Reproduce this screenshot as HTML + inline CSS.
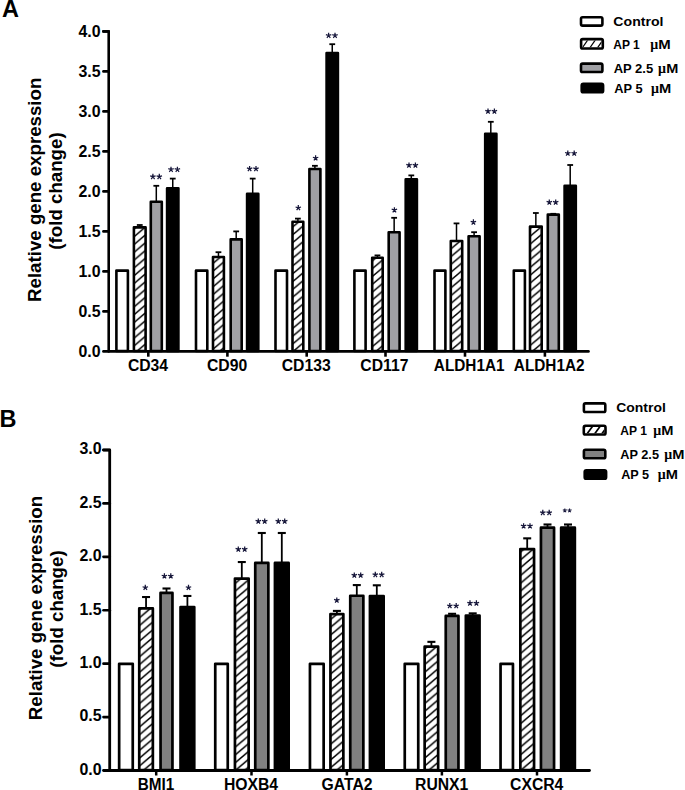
<!DOCTYPE html>
<html><head><meta charset="utf-8"><title>Figure</title>
<style>html,body{margin:0;padding:0;background:#fff}svg{display:block}</style></head><body>
<svg width="685" height="790" viewBox="0 0 685 790">
<defs>
<pattern id="hA" patternUnits="userSpaceOnUse" width="9.2" height="7.8" patternTransform="translate(134.9 228.2)"><rect width="9.2" height="7.8" fill="#fff"/><path d="M-4.6,11.7 L13.8,-3.9 M-4.6,19.5 L13.8,3.9 M-4.6,3.9 L13.8,-11.7" stroke="#000" stroke-width="1.45"/></pattern>
<pattern id="hB" patternUnits="userSpaceOnUse" width="9.2" height="7.8" patternTransform="translate(140.8 640.0)"><rect width="9.2" height="7.8" fill="#fff"/><path d="M-4.6,11.7 L13.8,-3.9 M-4.6,19.5 L13.8,3.9 M-4.6,3.9 L13.8,-11.7" stroke="#000" stroke-width="1.5"/></pattern>
</defs>
<rect width="685" height="790" fill="#fff"/>
<rect x="116.40" y="270.60" width="11.50" height="80.40" fill="#fff" stroke="#000" stroke-width="2.6" stroke-linejoin="round"/>
<line x1="139.75" y1="227.10" x2="139.75" y2="225.00" stroke="#000" stroke-width="1.5" stroke-linecap="butt"/>
<line x1="136.85" y1="225.00" x2="142.65" y2="225.00" stroke="#000" stroke-width="1.8" stroke-linecap="butt"/>
<rect x="133.90" y="227.40" width="11.70" height="123.60" fill="url(#hA)" stroke="#000" stroke-width="2.6" stroke-linejoin="round"/>
<line x1="156.30" y1="201.50" x2="156.30" y2="185.80" stroke="#000" stroke-width="1.5" stroke-linecap="butt"/>
<line x1="153.40" y1="185.80" x2="159.20" y2="185.80" stroke="#000" stroke-width="1.8" stroke-linecap="butt"/>
<rect x="150.80" y="201.80" width="11.00" height="149.20" fill="#a0a0a4" stroke="#000" stroke-width="2.6" stroke-linejoin="round"/>
<line x1="172.75" y1="187.90" x2="172.75" y2="178.60" stroke="#000" stroke-width="1.5" stroke-linecap="butt"/>
<line x1="169.85" y1="178.60" x2="175.65" y2="178.60" stroke="#000" stroke-width="1.8" stroke-linecap="butt"/>
<rect x="167.10" y="188.20" width="11.30" height="162.80" fill="#000" stroke="#000" stroke-width="2.6" stroke-linejoin="round"/>
<path d="M152.90,176.70L152.90,173.85M152.90,176.70L155.61,175.82M152.90,176.70L154.58,179.01M152.90,176.70L151.22,179.01M152.90,176.70L150.19,175.82" stroke="#16163a" stroke-width="1.25" stroke-linecap="butt" fill="none"/>
<path d="M159.30,176.70L159.30,173.85M159.30,176.70L162.01,175.82M159.30,176.70L160.98,179.01M159.30,176.70L157.62,179.01M159.30,176.70L156.59,175.82" stroke="#16163a" stroke-width="1.25" stroke-linecap="butt" fill="none"/>
<path d="M171.00,169.50L171.00,166.65M171.00,169.50L173.71,168.62M171.00,169.50L172.68,171.81M171.00,169.50L169.32,171.81M171.00,169.50L168.29,168.62" stroke="#16163a" stroke-width="1.25" stroke-linecap="butt" fill="none"/>
<path d="M177.40,169.50L177.40,166.65M177.40,169.50L180.11,168.62M177.40,169.50L179.08,171.81M177.40,169.50L175.72,171.81M177.40,169.50L174.69,168.62" stroke="#16163a" stroke-width="1.25" stroke-linecap="butt" fill="none"/>
<line x1="148.30" y1="351.40" x2="148.30" y2="356.70" stroke="#000" stroke-width="2.6" stroke-linecap="butt"/>
<text transform="translate(148.00 371.00) scale(0.915 1)" font-size="17.2" font-weight="bold" text-anchor="middle" fill="#000" font-family="Liberation Sans, sans-serif" xml:space="preserve" >CD34</text>
<rect x="196.00" y="270.60" width="11.30" height="80.40" fill="#fff" stroke="#000" stroke-width="2.6" stroke-linejoin="round"/>
<line x1="218.45" y1="256.70" x2="218.45" y2="252.20" stroke="#000" stroke-width="1.5" stroke-linecap="butt"/>
<line x1="215.55" y1="252.20" x2="221.35" y2="252.20" stroke="#000" stroke-width="1.8" stroke-linecap="butt"/>
<rect x="213.00" y="257.00" width="10.90" height="94.00" fill="url(#hA)" stroke="#000" stroke-width="2.6" stroke-linejoin="round"/>
<line x1="236.20" y1="239.10" x2="236.20" y2="231.40" stroke="#000" stroke-width="1.5" stroke-linecap="butt"/>
<line x1="233.30" y1="231.40" x2="239.10" y2="231.40" stroke="#000" stroke-width="1.8" stroke-linecap="butt"/>
<rect x="230.70" y="239.40" width="11.00" height="111.60" fill="#a0a0a4" stroke="#000" stroke-width="2.6" stroke-linejoin="round"/>
<line x1="252.70" y1="193.50" x2="252.70" y2="178.60" stroke="#000" stroke-width="1.5" stroke-linecap="butt"/>
<line x1="249.80" y1="178.60" x2="255.60" y2="178.60" stroke="#000" stroke-width="1.8" stroke-linecap="butt"/>
<rect x="247.10" y="193.80" width="11.20" height="157.20" fill="#000" stroke="#000" stroke-width="2.6" stroke-linejoin="round"/>
<path d="M249.60,168.80L249.60,165.95M249.60,168.80L252.31,167.92M249.60,168.80L251.28,171.11M249.60,168.80L247.92,171.11M249.60,168.80L246.89,167.92" stroke="#16163a" stroke-width="1.25" stroke-linecap="butt" fill="none"/>
<path d="M256.00,168.80L256.00,165.95M256.00,168.80L258.71,167.92M256.00,168.80L257.68,171.11M256.00,168.80L254.32,171.11M256.00,168.80L253.29,167.92" stroke="#16163a" stroke-width="1.25" stroke-linecap="butt" fill="none"/>
<line x1="227.40" y1="351.40" x2="227.40" y2="356.70" stroke="#000" stroke-width="2.6" stroke-linecap="butt"/>
<text transform="translate(227.10 371.00) scale(0.915 1)" font-size="17.2" font-weight="bold" text-anchor="middle" fill="#000" font-family="Liberation Sans, sans-serif" xml:space="preserve" >CD90</text>
<rect x="275.50" y="270.60" width="11.50" height="80.40" fill="#fff" stroke="#000" stroke-width="2.6" stroke-linejoin="round"/>
<line x1="297.90" y1="221.50" x2="297.90" y2="218.60" stroke="#000" stroke-width="1.5" stroke-linecap="butt"/>
<line x1="295.00" y1="218.60" x2="300.80" y2="218.60" stroke="#000" stroke-width="1.8" stroke-linecap="butt"/>
<rect x="292.50" y="221.80" width="10.80" height="129.20" fill="url(#hA)" stroke="#000" stroke-width="2.6" stroke-linejoin="round"/>
<line x1="314.90" y1="168.70" x2="314.90" y2="165.80" stroke="#000" stroke-width="1.5" stroke-linecap="butt"/>
<line x1="312.00" y1="165.80" x2="317.80" y2="165.80" stroke="#000" stroke-width="1.8" stroke-linecap="butt"/>
<rect x="309.40" y="169.00" width="11.00" height="182.00" fill="#a0a0a4" stroke="#000" stroke-width="2.6" stroke-linejoin="round"/>
<line x1="332.25" y1="52.70" x2="332.25" y2="44.20" stroke="#000" stroke-width="1.5" stroke-linecap="butt"/>
<line x1="329.35" y1="44.20" x2="335.15" y2="44.20" stroke="#000" stroke-width="1.8" stroke-linecap="butt"/>
<rect x="326.60" y="53.00" width="11.30" height="298.00" fill="#000" stroke="#000" stroke-width="2.6" stroke-linejoin="round"/>
<path d="M298.30,207.90L298.30,205.05M298.30,207.90L301.01,207.02M298.30,207.90L299.98,210.21M298.30,207.90L296.62,210.21M298.30,207.90L295.59,207.02" stroke="#16163a" stroke-width="1.25" stroke-linecap="butt" fill="none"/>
<path d="M315.60,158.10L315.60,155.25M315.60,158.10L318.31,157.22M315.60,158.10L317.28,160.41M315.60,158.10L313.92,160.41M315.60,158.10L312.89,157.22" stroke="#16163a" stroke-width="1.25" stroke-linecap="butt" fill="none"/>
<path d="M328.60,35.50L328.60,32.65M328.60,35.50L331.31,34.62M328.60,35.50L330.28,37.81M328.60,35.50L326.92,37.81M328.60,35.50L325.89,34.62" stroke="#16163a" stroke-width="1.25" stroke-linecap="butt" fill="none"/>
<path d="M335.00,35.50L335.00,32.65M335.00,35.50L337.71,34.62M335.00,35.50L336.68,37.81M335.00,35.50L333.32,37.81M335.00,35.50L332.29,34.62" stroke="#16163a" stroke-width="1.25" stroke-linecap="butt" fill="none"/>
<line x1="306.70" y1="351.40" x2="306.70" y2="356.70" stroke="#000" stroke-width="2.6" stroke-linecap="butt"/>
<text transform="translate(306.20 371.00) scale(0.915 1)" font-size="17.2" font-weight="bold" text-anchor="middle" fill="#000" font-family="Liberation Sans, sans-serif" xml:space="preserve" >CD133</text>
<rect x="354.40" y="270.60" width="11.20" height="80.40" fill="#fff" stroke="#000" stroke-width="2.6" stroke-linejoin="round"/>
<line x1="377.45" y1="257.50" x2="377.45" y2="255.40" stroke="#000" stroke-width="1.5" stroke-linecap="butt"/>
<line x1="374.55" y1="255.40" x2="380.35" y2="255.40" stroke="#000" stroke-width="1.8" stroke-linecap="butt"/>
<rect x="372.20" y="257.80" width="10.50" height="93.20" fill="url(#hA)" stroke="#000" stroke-width="2.6" stroke-linejoin="round"/>
<line x1="394.15" y1="231.90" x2="394.15" y2="217.80" stroke="#000" stroke-width="1.5" stroke-linecap="butt"/>
<line x1="391.25" y1="217.80" x2="397.05" y2="217.80" stroke="#000" stroke-width="1.8" stroke-linecap="butt"/>
<rect x="388.70" y="232.20" width="10.90" height="118.80" fill="#a0a0a4" stroke="#000" stroke-width="2.6" stroke-linejoin="round"/>
<line x1="411.30" y1="179.10" x2="411.30" y2="175.40" stroke="#000" stroke-width="1.5" stroke-linecap="butt"/>
<line x1="408.40" y1="175.40" x2="414.20" y2="175.40" stroke="#000" stroke-width="1.8" stroke-linecap="butt"/>
<rect x="405.70" y="179.40" width="11.20" height="171.60" fill="#000" stroke="#000" stroke-width="2.6" stroke-linejoin="round"/>
<path d="M394.40,210.00L394.40,207.15M394.40,210.00L397.11,209.12M394.40,210.00L396.08,212.31M394.40,210.00L392.72,212.31M394.40,210.00L391.69,209.12" stroke="#16163a" stroke-width="1.25" stroke-linecap="butt" fill="none"/>
<path d="M409.00,165.30L409.00,162.45M409.00,165.30L411.71,164.42M409.00,165.30L410.68,167.61M409.00,165.30L407.32,167.61M409.00,165.30L406.29,164.42" stroke="#16163a" stroke-width="1.25" stroke-linecap="butt" fill="none"/>
<path d="M415.40,165.30L415.40,162.45M415.40,165.30L418.11,164.42M415.40,165.30L417.08,167.61M415.40,165.30L413.72,167.61M415.40,165.30L412.69,164.42" stroke="#16163a" stroke-width="1.25" stroke-linecap="butt" fill="none"/>
<line x1="385.50" y1="351.40" x2="385.50" y2="356.70" stroke="#000" stroke-width="2.6" stroke-linecap="butt"/>
<text transform="translate(384.40 371.00) scale(0.915 1)" font-size="17.2" font-weight="bold" text-anchor="middle" fill="#000" font-family="Liberation Sans, sans-serif" xml:space="preserve" >CD117</text>
<rect x="434.50" y="270.60" width="10.90" height="80.40" fill="#fff" stroke="#000" stroke-width="2.6" stroke-linejoin="round"/>
<line x1="456.50" y1="240.70" x2="456.50" y2="223.40" stroke="#000" stroke-width="1.5" stroke-linecap="butt"/>
<line x1="453.60" y1="223.40" x2="459.40" y2="223.40" stroke="#000" stroke-width="1.8" stroke-linecap="butt"/>
<rect x="450.80" y="241.00" width="11.40" height="110.00" fill="url(#hA)" stroke="#000" stroke-width="2.6" stroke-linejoin="round"/>
<line x1="474.10" y1="235.90" x2="474.10" y2="232.20" stroke="#000" stroke-width="1.5" stroke-linecap="butt"/>
<line x1="471.20" y1="232.20" x2="477.00" y2="232.20" stroke="#000" stroke-width="1.8" stroke-linecap="butt"/>
<rect x="468.60" y="236.20" width="11.00" height="114.80" fill="#a0a0a4" stroke="#000" stroke-width="2.6" stroke-linejoin="round"/>
<line x1="490.80" y1="133.50" x2="490.80" y2="121.80" stroke="#000" stroke-width="1.5" stroke-linecap="butt"/>
<line x1="487.90" y1="121.80" x2="493.70" y2="121.80" stroke="#000" stroke-width="1.8" stroke-linecap="butt"/>
<rect x="485.20" y="133.80" width="11.20" height="217.20" fill="#000" stroke="#000" stroke-width="2.6" stroke-linejoin="round"/>
<path d="M473.40,222.20L473.40,219.35M473.40,222.20L476.11,221.32M473.40,222.20L475.08,224.51M473.40,222.20L471.72,224.51M473.40,222.20L470.69,221.32" stroke="#16163a" stroke-width="1.25" stroke-linecap="butt" fill="none"/>
<path d="M488.00,111.30L488.00,108.45M488.00,111.30L490.71,110.42M488.00,111.30L489.68,113.61M488.00,111.30L486.32,113.61M488.00,111.30L485.29,110.42" stroke="#16163a" stroke-width="1.25" stroke-linecap="butt" fill="none"/>
<path d="M494.40,111.30L494.40,108.45M494.40,111.30L497.11,110.42M494.40,111.30L496.08,113.61M494.40,111.30L492.72,113.61M494.40,111.30L491.69,110.42" stroke="#16163a" stroke-width="1.25" stroke-linecap="butt" fill="none"/>
<line x1="465.00" y1="351.40" x2="465.00" y2="356.70" stroke="#000" stroke-width="2.6" stroke-linecap="butt"/>
<text transform="translate(469.20 371.00) scale(0.893 1)" font-size="17.2" font-weight="bold" text-anchor="middle" fill="#000" font-family="Liberation Sans, sans-serif" xml:space="preserve" >ALDH1A1</text>
<rect x="513.80" y="270.60" width="11.10" height="80.40" fill="#fff" stroke="#000" stroke-width="2.6" stroke-linejoin="round"/>
<line x1="535.85" y1="226.30" x2="535.85" y2="213.00" stroke="#000" stroke-width="1.5" stroke-linecap="butt"/>
<line x1="532.95" y1="213.00" x2="538.75" y2="213.00" stroke="#000" stroke-width="1.8" stroke-linecap="butt"/>
<rect x="530.00" y="226.60" width="11.70" height="124.40" fill="url(#hA)" stroke="#000" stroke-width="2.6" stroke-linejoin="round"/>
<line x1="553.30" y1="214.30" x2="553.30" y2="213.80" stroke="#000" stroke-width="1.5" stroke-linecap="butt"/>
<line x1="550.40" y1="213.80" x2="556.20" y2="213.80" stroke="#000" stroke-width="1.8" stroke-linecap="butt"/>
<rect x="547.80" y="214.60" width="11.00" height="136.40" fill="#a0a0a4" stroke="#000" stroke-width="2.6" stroke-linejoin="round"/>
<line x1="570.20" y1="185.50" x2="570.20" y2="165.00" stroke="#000" stroke-width="1.5" stroke-linecap="butt"/>
<line x1="567.30" y1="165.00" x2="573.10" y2="165.00" stroke="#000" stroke-width="1.8" stroke-linecap="butt"/>
<rect x="564.60" y="185.80" width="11.20" height="165.20" fill="#000" stroke="#000" stroke-width="2.6" stroke-linejoin="round"/>
<path d="M549.30,202.30L549.30,199.45M549.30,202.30L552.01,201.42M549.30,202.30L550.98,204.61M549.30,202.30L547.62,204.61M549.30,202.30L546.59,201.42" stroke="#16163a" stroke-width="1.25" stroke-linecap="butt" fill="none"/>
<path d="M555.70,202.30L555.70,199.45M555.70,202.30L558.41,201.42M555.70,202.30L557.38,204.61M555.70,202.30L554.02,204.61M555.70,202.30L552.99,201.42" stroke="#16163a" stroke-width="1.25" stroke-linecap="butt" fill="none"/>
<path d="M567.80,153.40L567.80,150.55M567.80,153.40L570.51,152.52M567.80,153.40L569.48,155.71M567.80,153.40L566.12,155.71M567.80,153.40L565.09,152.52" stroke="#16163a" stroke-width="1.25" stroke-linecap="butt" fill="none"/>
<path d="M574.20,153.40L574.20,150.55M574.20,153.40L576.91,152.52M574.20,153.40L575.88,155.71M574.20,153.40L572.52,155.71M574.20,153.40L571.49,152.52" stroke="#16163a" stroke-width="1.25" stroke-linecap="butt" fill="none"/>
<line x1="544.90" y1="351.40" x2="544.90" y2="356.70" stroke="#000" stroke-width="2.6" stroke-linecap="butt"/>
<text transform="translate(549.20 371.00) scale(0.893 1)" font-size="17.2" font-weight="bold" text-anchor="middle" fill="#000" font-family="Liberation Sans, sans-serif" xml:space="preserve" >ALDH1A2</text>
<path d="M103.40,31.40 L108.70,31.40 L108.70,351.40" fill="none" stroke="#000" stroke-width="2.6" stroke-linejoin="round" stroke-linecap="round"/>
<line x1="103.40" y1="351.40" x2="588.50" y2="351.40" stroke="#000" stroke-width="2.6" stroke-linecap="round"/>
<text transform="translate(100.60 356.50) scale(0.925 1)" font-size="17.2" font-weight="bold" text-anchor="end" fill="#000" font-family="Liberation Sans, sans-serif" xml:space="preserve" >0.0</text>
<line x1="103.40" y1="311.40" x2="108.70" y2="311.40" stroke="#000" stroke-width="2.6" stroke-linecap="round"/>
<text transform="translate(100.60 316.50) scale(0.925 1)" font-size="17.2" font-weight="bold" text-anchor="end" fill="#000" font-family="Liberation Sans, sans-serif" xml:space="preserve" >0.5</text>
<line x1="103.40" y1="271.40" x2="108.70" y2="271.40" stroke="#000" stroke-width="2.6" stroke-linecap="round"/>
<text transform="translate(100.60 276.50) scale(0.925 1)" font-size="17.2" font-weight="bold" text-anchor="end" fill="#000" font-family="Liberation Sans, sans-serif" xml:space="preserve" >1.0</text>
<line x1="103.40" y1="231.40" x2="108.70" y2="231.40" stroke="#000" stroke-width="2.6" stroke-linecap="round"/>
<text transform="translate(100.60 236.50) scale(0.925 1)" font-size="17.2" font-weight="bold" text-anchor="end" fill="#000" font-family="Liberation Sans, sans-serif" xml:space="preserve" >1.5</text>
<line x1="103.40" y1="191.40" x2="108.70" y2="191.40" stroke="#000" stroke-width="2.6" stroke-linecap="round"/>
<text transform="translate(100.60 196.50) scale(0.925 1)" font-size="17.2" font-weight="bold" text-anchor="end" fill="#000" font-family="Liberation Sans, sans-serif" xml:space="preserve" >2.0</text>
<line x1="103.40" y1="151.40" x2="108.70" y2="151.40" stroke="#000" stroke-width="2.6" stroke-linecap="round"/>
<text transform="translate(100.60 156.50) scale(0.925 1)" font-size="17.2" font-weight="bold" text-anchor="end" fill="#000" font-family="Liberation Sans, sans-serif" xml:space="preserve" >2.5</text>
<line x1="103.40" y1="111.40" x2="108.70" y2="111.40" stroke="#000" stroke-width="2.6" stroke-linecap="round"/>
<text transform="translate(100.60 116.50) scale(0.925 1)" font-size="17.2" font-weight="bold" text-anchor="end" fill="#000" font-family="Liberation Sans, sans-serif" xml:space="preserve" >3.0</text>
<line x1="103.40" y1="71.40" x2="108.70" y2="71.40" stroke="#000" stroke-width="2.6" stroke-linecap="round"/>
<text transform="translate(100.60 76.50) scale(0.925 1)" font-size="17.2" font-weight="bold" text-anchor="end" fill="#000" font-family="Liberation Sans, sans-serif" xml:space="preserve" >3.5</text>
<line x1="103.40" y1="31.40" x2="108.70" y2="31.40" stroke="#000" stroke-width="2.6" stroke-linecap="round"/>
<text transform="translate(100.60 36.50) scale(0.925 1)" font-size="17.2" font-weight="bold" text-anchor="end" fill="#000" font-family="Liberation Sans, sans-serif" xml:space="preserve" >4.0</text>
<text x="0.00" y="0.00" font-size="18.7" font-weight="bold" text-anchor="middle" fill="#000" font-family="Liberation Sans, sans-serif" transform="translate(41.4,189.8) rotate(-90)">Relative gene expression</text>
<text x="0.00" y="0.00" font-size="18.7" font-weight="bold" text-anchor="middle" fill="#000" font-family="Liberation Sans, sans-serif" transform="translate(62.2,191) rotate(-90)">(fold change)</text>
<text x="2.00" y="16.90" font-size="23.5" font-weight="bold" text-anchor="start" fill="#000" font-family="Liberation Sans, sans-serif" >A</text>
<rect x="581.00" y="17.20" width="21.40" height="8.40" fill="#fff" stroke="#000" stroke-width="2.6" rx="1.6"/>
<text transform="translate(613.33 26.00) scale(1.07 1)" font-size="13.2" font-weight="bold" text-anchor="start" fill="#000" font-family="Liberation Sans, sans-serif" xml:space="preserve" >Control</text>
<clipPath id="lcA"><rect x="582.40" y="40.40" width="19.10" height="6.80"/></clipPath>
<g clip-path="url(#lcA)">
<line x1="580.20" y1="50.80" x2="592.20" y2="33.60" stroke="#000" stroke-width="1.2" stroke-linecap="butt"/>
<line x1="587.80" y1="50.80" x2="599.80" y2="33.60" stroke="#000" stroke-width="1.2" stroke-linecap="butt"/>
<line x1="595.40" y1="50.80" x2="607.40" y2="33.60" stroke="#000" stroke-width="1.2" stroke-linecap="butt"/>
</g>
<rect x="581.10" y="39.10" width="21.70" height="9.40" fill="none" stroke="#000" stroke-width="2.6" rx="1.6"/>
<text transform="translate(613.26 48.90) scale(0.912 1)" font-size="13.2" font-weight="bold" text-anchor="start" fill="#000" font-family="Liberation Sans, sans-serif" xml:space="preserve" >AP 1</text>
<text x="650.26" y="48.90" font-size="14" font-weight="bold" font-family="Liberation Serif, serif">&#956;</text>
<text transform="translate(658.30 48.90) scale(1.131 1)" font-size="13.2" font-weight="bold" text-anchor="start" fill="#000" font-family="Liberation Sans, sans-serif" xml:space="preserve" >M</text>
<rect x="581.00" y="63.60" width="21.40" height="8.40" fill="#a0a0a4" stroke="#000" stroke-width="2.6" rx="1.6"/>
<text transform="translate(613.64 72.90) scale(0.986 1)" font-size="13.2" font-weight="bold" text-anchor="start" fill="#000" font-family="Liberation Sans, sans-serif" xml:space="preserve" >AP 2.5</text>
<text x="657.96" y="72.90" font-size="14" font-weight="bold" font-family="Liberation Serif, serif">&#956;</text>
<text transform="translate(666.23 72.90) scale(1.099 1)" font-size="13.2" font-weight="bold" text-anchor="start" fill="#000" font-family="Liberation Sans, sans-serif" xml:space="preserve" >M</text>
<rect x="581.70" y="83.90" width="21.40" height="8.40" fill="#000" stroke="#000" stroke-width="2.6" rx="1.6"/>
<text transform="translate(614.34 92.80) scale(0.971 1)" font-size="13.2" font-weight="bold" text-anchor="start" fill="#000" font-family="Liberation Sans, sans-serif" xml:space="preserve" >AP 5</text>
<text x="651.06" y="92.80" font-size="14" font-weight="bold" font-family="Liberation Serif, serif">&#956;</text>
<text transform="translate(659.12 92.80) scale(1.11 1)" font-size="13.2" font-weight="bold" text-anchor="start" fill="#000" font-family="Liberation Sans, sans-serif" xml:space="preserve" >M</text>
<rect x="119.15" y="663.84" width="13.60" height="106.31" fill="#fff" stroke="#000" stroke-width="2.7" stroke-linejoin="round"/>
<line x1="146.05" y1="608.11" x2="146.05" y2="597.03" stroke="#000" stroke-width="1.8" stroke-linecap="butt"/>
<line x1="142.05" y1="597.03" x2="150.05" y2="597.03" stroke="#000" stroke-width="2.1" stroke-linecap="butt"/>
<rect x="139.25" y="608.46" width="13.60" height="161.69" fill="url(#hB)" stroke="#000" stroke-width="2.7" stroke-linejoin="round"/>
<line x1="166.50" y1="592.43" x2="166.50" y2="588.50" stroke="#000" stroke-width="1.8" stroke-linecap="butt"/>
<line x1="162.50" y1="588.50" x2="170.50" y2="588.50" stroke="#000" stroke-width="2.1" stroke-linecap="butt"/>
<rect x="160.55" y="592.78" width="11.90" height="177.37" fill="#808080" stroke="#000" stroke-width="2.7" stroke-linejoin="round"/>
<line x1="187.40" y1="606.73" x2="187.40" y2="595.97" stroke="#000" stroke-width="1.8" stroke-linecap="butt"/>
<line x1="183.40" y1="595.97" x2="191.40" y2="595.97" stroke="#000" stroke-width="2.1" stroke-linecap="butt"/>
<rect x="180.55" y="607.08" width="13.70" height="163.07" fill="#000" stroke="#000" stroke-width="2.7" stroke-linejoin="round"/>
<path d="M145.30,587.60L145.30,584.75M145.30,587.60L148.01,586.72M145.30,587.60L146.98,589.91M145.30,587.60L143.62,589.91M145.30,587.60L142.59,586.72" stroke="#16163a" stroke-width="1.25" stroke-linecap="butt" fill="none"/>
<path d="M164.40,576.10L164.40,573.25M164.40,576.10L167.11,575.22M164.40,576.10L166.08,578.41M164.40,576.10L162.72,578.41M164.40,576.10L161.69,575.22" stroke="#16163a" stroke-width="1.25" stroke-linecap="butt" fill="none"/>
<path d="M170.80,576.10L170.80,573.25M170.80,576.10L173.51,575.22M170.80,576.10L172.48,578.41M170.80,576.10L169.12,578.41M170.80,576.10L168.09,575.22" stroke="#16163a" stroke-width="1.25" stroke-linecap="butt" fill="none"/>
<path d="M188.50,587.60L188.50,584.75M188.50,587.60L191.21,586.72M188.50,587.60L190.18,589.91M188.50,587.60L186.82,589.91M188.50,587.60L185.79,586.72" stroke="#16163a" stroke-width="1.25" stroke-linecap="butt" fill="none"/>
<line x1="156.20" y1="770.50" x2="156.20" y2="775.50" stroke="#000" stroke-width="2.5" stroke-linecap="butt"/>
<text transform="translate(156.10 790.00) scale(0.89 1)" font-size="17.2" font-weight="bold" text-anchor="middle" fill="#000" font-family="Liberation Sans, sans-serif" xml:space="preserve" >BMI1</text>
<rect x="215.25" y="663.84" width="12.50" height="106.31" fill="#fff" stroke="#000" stroke-width="2.7" stroke-linejoin="round"/>
<line x1="241.80" y1="578.24" x2="241.80" y2="562.03" stroke="#000" stroke-width="1.8" stroke-linecap="butt"/>
<line x1="237.80" y1="562.03" x2="245.80" y2="562.03" stroke="#000" stroke-width="2.1" stroke-linecap="butt"/>
<rect x="234.95" y="578.59" width="13.70" height="191.56" fill="url(#hB)" stroke="#000" stroke-width="2.7" stroke-linejoin="round"/>
<line x1="261.80" y1="562.55" x2="261.80" y2="532.99" stroke="#000" stroke-width="1.8" stroke-linecap="butt"/>
<line x1="257.80" y1="532.99" x2="265.80" y2="532.99" stroke="#000" stroke-width="2.1" stroke-linecap="butt"/>
<rect x="255.25" y="562.90" width="13.10" height="207.25" fill="#808080" stroke="#000" stroke-width="2.7" stroke-linejoin="round"/>
<line x1="281.80" y1="562.55" x2="281.80" y2="532.99" stroke="#000" stroke-width="1.8" stroke-linecap="butt"/>
<line x1="277.80" y1="532.99" x2="285.80" y2="532.99" stroke="#000" stroke-width="2.1" stroke-linecap="butt"/>
<rect x="274.95" y="562.90" width="13.70" height="207.25" fill="#000" stroke="#000" stroke-width="2.7" stroke-linejoin="round"/>
<path d="M238.30,549.30L238.30,546.45M238.30,549.30L241.01,548.42M238.30,549.30L239.98,551.61M238.30,549.30L236.62,551.61M238.30,549.30L235.59,548.42" stroke="#16163a" stroke-width="1.25" stroke-linecap="butt" fill="none"/>
<path d="M244.70,549.30L244.70,546.45M244.70,549.30L247.41,548.42M244.70,549.30L246.38,551.61M244.70,549.30L243.02,551.61M244.70,549.30L241.99,548.42" stroke="#16163a" stroke-width="1.25" stroke-linecap="butt" fill="none"/>
<path d="M258.30,521.30L258.30,518.45M258.30,521.30L261.01,520.42M258.30,521.30L259.98,523.61M258.30,521.30L256.62,523.61M258.30,521.30L255.59,520.42" stroke="#16163a" stroke-width="1.25" stroke-linecap="butt" fill="none"/>
<path d="M264.70,521.30L264.70,518.45M264.70,521.30L267.41,520.42M264.70,521.30L266.38,523.61M264.70,521.30L263.02,523.61M264.70,521.30L261.99,520.42" stroke="#16163a" stroke-width="1.25" stroke-linecap="butt" fill="none"/>
<path d="M278.30,521.30L278.30,518.45M278.30,521.30L281.01,520.42M278.30,521.30L279.98,523.61M278.30,521.30L276.62,523.61M278.30,521.30L275.59,520.42" stroke="#16163a" stroke-width="1.25" stroke-linecap="butt" fill="none"/>
<path d="M284.70,521.30L284.70,518.45M284.70,521.30L287.41,520.42M284.70,521.30L286.38,523.61M284.70,521.30L283.02,523.61M284.70,521.30L281.99,520.42" stroke="#16163a" stroke-width="1.25" stroke-linecap="butt" fill="none"/>
<line x1="251.50" y1="770.50" x2="251.50" y2="775.50" stroke="#000" stroke-width="2.5" stroke-linecap="butt"/>
<text transform="translate(251.00 790.00) scale(0.915 1)" font-size="17.2" font-weight="bold" text-anchor="middle" fill="#000" font-family="Liberation Sans, sans-serif" xml:space="preserve" >HOXB4</text>
<rect x="309.95" y="663.84" width="13.70" height="106.31" fill="#fff" stroke="#000" stroke-width="2.7" stroke-linejoin="round"/>
<line x1="336.90" y1="613.77" x2="336.90" y2="610.91" stroke="#000" stroke-width="1.8" stroke-linecap="butt"/>
<line x1="332.90" y1="610.91" x2="340.90" y2="610.91" stroke="#000" stroke-width="2.1" stroke-linecap="butt"/>
<rect x="330.45" y="614.12" width="12.90" height="156.03" fill="url(#hB)" stroke="#000" stroke-width="2.7" stroke-linejoin="round"/>
<line x1="356.80" y1="595.42" x2="356.80" y2="585.08" stroke="#000" stroke-width="1.8" stroke-linecap="butt"/>
<line x1="352.80" y1="585.08" x2="360.80" y2="585.08" stroke="#000" stroke-width="2.1" stroke-linecap="butt"/>
<rect x="350.25" y="595.77" width="13.10" height="174.38" fill="#808080" stroke="#000" stroke-width="2.7" stroke-linejoin="round"/>
<line x1="376.80" y1="595.63" x2="376.80" y2="585.30" stroke="#000" stroke-width="1.8" stroke-linecap="butt"/>
<line x1="372.80" y1="585.30" x2="380.80" y2="585.30" stroke="#000" stroke-width="2.1" stroke-linecap="butt"/>
<rect x="369.95" y="595.98" width="13.70" height="174.17" fill="#000" stroke="#000" stroke-width="2.7" stroke-linejoin="round"/>
<path d="M336.80,600.30L336.80,597.45M336.80,600.30L339.51,599.42M336.80,600.30L338.48,602.61M336.80,600.30L335.12,602.61M336.80,600.30L334.09,599.42" stroke="#16163a" stroke-width="1.25" stroke-linecap="butt" fill="none"/>
<path d="M354.30,575.30L354.30,572.45M354.30,575.30L357.01,574.42M354.30,575.30L355.98,577.61M354.30,575.30L352.62,577.61M354.30,575.30L351.59,574.42" stroke="#16163a" stroke-width="1.25" stroke-linecap="butt" fill="none"/>
<path d="M360.70,575.30L360.70,572.45M360.70,575.30L363.41,574.42M360.70,575.30L362.38,577.61M360.70,575.30L359.02,577.61M360.70,575.30L357.99,574.42" stroke="#16163a" stroke-width="1.25" stroke-linecap="butt" fill="none"/>
<path d="M375.30,574.70L375.30,571.85M375.30,574.70L378.01,573.82M375.30,574.70L376.98,577.01M375.30,574.70L373.62,577.01M375.30,574.70L372.59,573.82" stroke="#16163a" stroke-width="1.25" stroke-linecap="butt" fill="none"/>
<path d="M381.70,574.70L381.70,571.85M381.70,574.70L384.41,573.82M381.70,574.70L383.38,577.01M381.70,574.70L380.02,577.01M381.70,574.70L378.99,573.82" stroke="#16163a" stroke-width="1.25" stroke-linecap="butt" fill="none"/>
<line x1="346.90" y1="770.50" x2="346.90" y2="775.50" stroke="#000" stroke-width="2.5" stroke-linecap="butt"/>
<text transform="translate(347.10 790.00) scale(0.915 1)" font-size="17.2" font-weight="bold" text-anchor="middle" fill="#000" font-family="Liberation Sans, sans-serif" xml:space="preserve" >GATA2</text>
<rect x="404.75" y="663.84" width="13.50" height="106.31" fill="#fff" stroke="#000" stroke-width="2.7" stroke-linejoin="round"/>
<line x1="431.40" y1="646.31" x2="431.40" y2="641.85" stroke="#000" stroke-width="1.8" stroke-linecap="butt"/>
<line x1="427.40" y1="641.85" x2="435.40" y2="641.85" stroke="#000" stroke-width="2.1" stroke-linecap="butt"/>
<rect x="424.65" y="646.66" width="13.50" height="123.49" fill="url(#hB)" stroke="#000" stroke-width="2.7" stroke-linejoin="round"/>
<line x1="452.10" y1="615.58" x2="452.10" y2="613.80" stroke="#000" stroke-width="1.8" stroke-linecap="butt"/>
<line x1="448.10" y1="613.80" x2="456.10" y2="613.80" stroke="#000" stroke-width="2.1" stroke-linecap="butt"/>
<rect x="445.75" y="615.93" width="12.70" height="154.22" fill="#808080" stroke="#000" stroke-width="2.7" stroke-linejoin="round"/>
<line x1="472.70" y1="615.16" x2="472.70" y2="613.37" stroke="#000" stroke-width="1.8" stroke-linecap="butt"/>
<line x1="468.70" y1="613.37" x2="476.70" y2="613.37" stroke="#000" stroke-width="2.1" stroke-linecap="butt"/>
<rect x="465.85" y="615.51" width="13.70" height="154.64" fill="#000" stroke="#000" stroke-width="2.7" stroke-linejoin="round"/>
<path d="M449.80,605.90L449.80,603.05M449.80,605.90L452.51,605.02M449.80,605.90L451.48,608.21M449.80,605.90L448.12,608.21M449.80,605.90L447.09,605.02" stroke="#16163a" stroke-width="1.25" stroke-linecap="butt" fill="none"/>
<path d="M456.20,605.90L456.20,603.05M456.20,605.90L458.91,605.02M456.20,605.90L457.88,608.21M456.20,605.90L454.52,608.21M456.20,605.90L453.49,605.02" stroke="#16163a" stroke-width="1.25" stroke-linecap="butt" fill="none"/>
<path d="M470.00,603.20L470.00,600.35M470.00,603.20L472.71,602.32M470.00,603.20L471.68,605.51M470.00,603.20L468.32,605.51M470.00,603.20L467.29,602.32" stroke="#16163a" stroke-width="1.25" stroke-linecap="butt" fill="none"/>
<path d="M476.40,603.20L476.40,600.35M476.40,603.20L479.11,602.32M476.40,603.20L478.08,605.51M476.40,603.20L474.72,605.51M476.40,603.20L473.69,602.32" stroke="#16163a" stroke-width="1.25" stroke-linecap="butt" fill="none"/>
<line x1="441.90" y1="770.50" x2="441.90" y2="775.50" stroke="#000" stroke-width="2.5" stroke-linecap="butt"/>
<text transform="translate(441.70 790.00) scale(0.915 1)" font-size="17.2" font-weight="bold" text-anchor="middle" fill="#000" font-family="Liberation Sans, sans-serif" xml:space="preserve" >RUNX1</text>
<rect x="500.55" y="663.84" width="12.40" height="106.31" fill="#fff" stroke="#000" stroke-width="2.7" stroke-linejoin="round"/>
<line x1="527.20" y1="548.68" x2="527.20" y2="538.35" stroke="#000" stroke-width="1.8" stroke-linecap="butt"/>
<line x1="523.20" y1="538.35" x2="531.20" y2="538.35" stroke="#000" stroke-width="2.1" stroke-linecap="butt"/>
<rect x="520.35" y="549.03" width="13.70" height="221.12" fill="url(#hB)" stroke="#000" stroke-width="2.7" stroke-linejoin="round"/>
<line x1="547.50" y1="527.34" x2="547.50" y2="524.49" stroke="#000" stroke-width="1.8" stroke-linecap="butt"/>
<line x1="543.50" y1="524.49" x2="551.50" y2="524.49" stroke="#000" stroke-width="2.1" stroke-linecap="butt"/>
<rect x="540.95" y="527.69" width="13.10" height="242.46" fill="#808080" stroke="#000" stroke-width="2.7" stroke-linejoin="round"/>
<line x1="568.00" y1="527.34" x2="568.00" y2="524.49" stroke="#000" stroke-width="1.8" stroke-linecap="butt"/>
<line x1="564.00" y1="524.49" x2="572.00" y2="524.49" stroke="#000" stroke-width="2.1" stroke-linecap="butt"/>
<rect x="561.15" y="527.69" width="13.70" height="242.46" fill="#000" stroke="#000" stroke-width="2.7" stroke-linejoin="round"/>
<path d="M523.60,526.00L523.60,523.15M523.60,526.00L526.31,525.12M523.60,526.00L525.28,528.31M523.60,526.00L521.92,528.31M523.60,526.00L520.89,525.12" stroke="#16163a" stroke-width="1.25" stroke-linecap="butt" fill="none"/>
<path d="M530.00,526.00L530.00,523.15M530.00,526.00L532.71,525.12M530.00,526.00L531.68,528.31M530.00,526.00L528.32,528.31M530.00,526.00L527.29,525.12" stroke="#16163a" stroke-width="1.25" stroke-linecap="butt" fill="none"/>
<path d="M542.80,512.70L542.80,509.85M542.80,512.70L545.51,511.82M542.80,512.70L544.48,515.01M542.80,512.70L541.12,515.01M542.80,512.70L540.09,511.82" stroke="#16163a" stroke-width="1.25" stroke-linecap="butt" fill="none"/>
<path d="M549.20,512.70L549.20,509.85M549.20,512.70L551.91,511.82M549.20,512.70L550.88,515.01M549.20,512.70L547.52,515.01M549.20,512.70L546.49,511.82" stroke="#16163a" stroke-width="1.25" stroke-linecap="butt" fill="none"/>
<path d="M564.83,510.50L564.83,508.39M564.83,510.50L566.84,509.85M564.83,510.50L566.07,512.21M564.83,510.50L563.59,512.21M564.83,510.50L562.83,509.85" stroke="#16163a" stroke-width="1.0625" stroke-linecap="butt" fill="none"/>
<path d="M569.57,510.50L569.57,508.39M569.57,510.50L571.57,509.85M569.57,510.50L570.81,512.21M569.57,510.50L568.33,512.21M569.57,510.50L567.56,509.85" stroke="#16163a" stroke-width="1.0625" stroke-linecap="butt" fill="none"/>
<line x1="537.00" y1="770.50" x2="537.00" y2="775.50" stroke="#000" stroke-width="2.5" stroke-linecap="butt"/>
<text transform="translate(536.70 790.00) scale(0.915 1)" font-size="17.2" font-weight="bold" text-anchor="middle" fill="#000" font-family="Liberation Sans, sans-serif" xml:space="preserve" >CXCR4</text>
<path d="M103.50,450.01 L109.70,450.01 L109.70,770.50" fill="none" stroke="#000" stroke-width="2.8" stroke-linejoin="round" stroke-linecap="round"/>
<line x1="103.50" y1="770.50" x2="589.50" y2="770.50" stroke="#000" stroke-width="2.8" stroke-linecap="round"/>
<text transform="translate(101.60 774.90) scale(0.96 1)" font-size="16.6" font-weight="bold" text-anchor="end" fill="#000" font-family="Liberation Sans, sans-serif" xml:space="preserve" >0.0</text>
<line x1="103.50" y1="717.09" x2="109.70" y2="717.09" stroke="#000" stroke-width="2.7" stroke-linecap="round"/>
<text transform="translate(101.60 721.49) scale(0.96 1)" font-size="16.6" font-weight="bold" text-anchor="end" fill="#000" font-family="Liberation Sans, sans-serif" xml:space="preserve" >0.5</text>
<line x1="103.50" y1="663.67" x2="109.70" y2="663.67" stroke="#000" stroke-width="2.7" stroke-linecap="round"/>
<text transform="translate(101.60 668.07) scale(0.96 1)" font-size="16.6" font-weight="bold" text-anchor="end" fill="#000" font-family="Liberation Sans, sans-serif" xml:space="preserve" >1.0</text>
<line x1="103.50" y1="610.25" x2="109.70" y2="610.25" stroke="#000" stroke-width="2.7" stroke-linecap="round"/>
<text transform="translate(101.60 614.65) scale(0.96 1)" font-size="16.6" font-weight="bold" text-anchor="end" fill="#000" font-family="Liberation Sans, sans-serif" xml:space="preserve" >1.5</text>
<line x1="103.50" y1="556.84" x2="109.70" y2="556.84" stroke="#000" stroke-width="2.7" stroke-linecap="round"/>
<text transform="translate(101.60 561.24) scale(0.96 1)" font-size="16.6" font-weight="bold" text-anchor="end" fill="#000" font-family="Liberation Sans, sans-serif" xml:space="preserve" >2.0</text>
<line x1="103.50" y1="503.43" x2="109.70" y2="503.43" stroke="#000" stroke-width="2.7" stroke-linecap="round"/>
<text transform="translate(101.60 507.82) scale(0.96 1)" font-size="16.6" font-weight="bold" text-anchor="end" fill="#000" font-family="Liberation Sans, sans-serif" xml:space="preserve" >2.5</text>
<line x1="103.50" y1="450.01" x2="109.70" y2="450.01" stroke="#000" stroke-width="2.7" stroke-linecap="round"/>
<text transform="translate(101.60 454.41) scale(0.96 1)" font-size="16.6" font-weight="bold" text-anchor="end" fill="#000" font-family="Liberation Sans, sans-serif" xml:space="preserve" >3.0</text>
<text x="0.00" y="0.00" font-size="18.7" font-weight="bold" text-anchor="middle" fill="#000" font-family="Liberation Sans, sans-serif" transform="translate(42,608) rotate(-90)">Relative gene expression</text>
<text x="0.00" y="0.00" font-size="18.7" font-weight="bold" text-anchor="middle" fill="#000" font-family="Liberation Sans, sans-serif" transform="translate(63.2,609) rotate(-90)">(fold change)</text>
<text x="-0.50" y="426.50" font-size="23.5" font-weight="bold" text-anchor="start" fill="#000" font-family="Liberation Sans, sans-serif" >B</text>
<rect x="583.90" y="403.40" width="21.40" height="8.60" fill="#fff" stroke="#000" stroke-width="2.6" rx="1.6"/>
<text transform="translate(616.24 411.90) scale(1.057 1)" font-size="13.2" font-weight="bold" text-anchor="start" fill="#000" font-family="Liberation Sans, sans-serif" xml:space="preserve" >Control</text>
<clipPath id="lcB"><rect x="585.10" y="427.10" width="19.10" height="6.10"/></clipPath>
<g clip-path="url(#lcB)">
<line x1="577.40" y1="436.80" x2="589.40" y2="420.30" stroke="#000" stroke-width="1.7" stroke-linecap="butt"/>
<line x1="584.90" y1="436.80" x2="596.90" y2="420.30" stroke="#000" stroke-width="1.7" stroke-linecap="butt"/>
<line x1="592.50" y1="436.80" x2="604.50" y2="420.30" stroke="#000" stroke-width="1.7" stroke-linecap="butt"/>
<line x1="599.70" y1="436.80" x2="611.70" y2="420.30" stroke="#000" stroke-width="1.7" stroke-linecap="butt"/>
</g>
<rect x="583.80" y="425.80" width="21.70" height="8.70" fill="none" stroke="#000" stroke-width="2.6" rx="1.6"/>
<text transform="translate(620.26 434.90) scale(0.915 1)" font-size="13.2" font-weight="bold" text-anchor="start" fill="#000" font-family="Liberation Sans, sans-serif" xml:space="preserve" >AP 1</text>
<text x="653.26" y="434.90" font-size="14" font-weight="bold" font-family="Liberation Serif, serif">&#956;</text>
<text transform="translate(661.32 434.90) scale(1.11 1)" font-size="13.2" font-weight="bold" text-anchor="start" fill="#000" font-family="Liberation Sans, sans-serif" xml:space="preserve" >M</text>
<rect x="583.90" y="449.70" width="21.40" height="8.60" fill="#808080" stroke="#000" stroke-width="2.6" rx="1.6"/>
<text transform="translate(620.24 459.00) scale(0.966 1)" font-size="13.2" font-weight="bold" text-anchor="start" fill="#000" font-family="Liberation Sans, sans-serif" xml:space="preserve" >AP 2.5</text>
<text x="664.16" y="459.00" font-size="14" font-weight="bold" font-family="Liberation Serif, serif">&#956;</text>
<text transform="translate(672.22 459.00) scale(1.11 1)" font-size="13.2" font-weight="bold" text-anchor="start" fill="#000" font-family="Liberation Sans, sans-serif" xml:space="preserve" >M</text>
<rect x="584.70" y="470.20" width="21.40" height="8.60" fill="#000" stroke="#000" stroke-width="2.6" rx="1.6"/>
<text transform="translate(621.15 479.20) scale(0.96 1)" font-size="13.2" font-weight="bold" text-anchor="start" fill="#000" font-family="Liberation Sans, sans-serif" xml:space="preserve" >AP 5</text>
<text x="657.66" y="479.20" font-size="14" font-weight="bold" font-family="Liberation Serif, serif">&#956;</text>
<text transform="translate(665.72 479.20) scale(1.11 1)" font-size="13.2" font-weight="bold" text-anchor="start" fill="#000" font-family="Liberation Sans, sans-serif" xml:space="preserve" >M</text>
</svg></body></html>
